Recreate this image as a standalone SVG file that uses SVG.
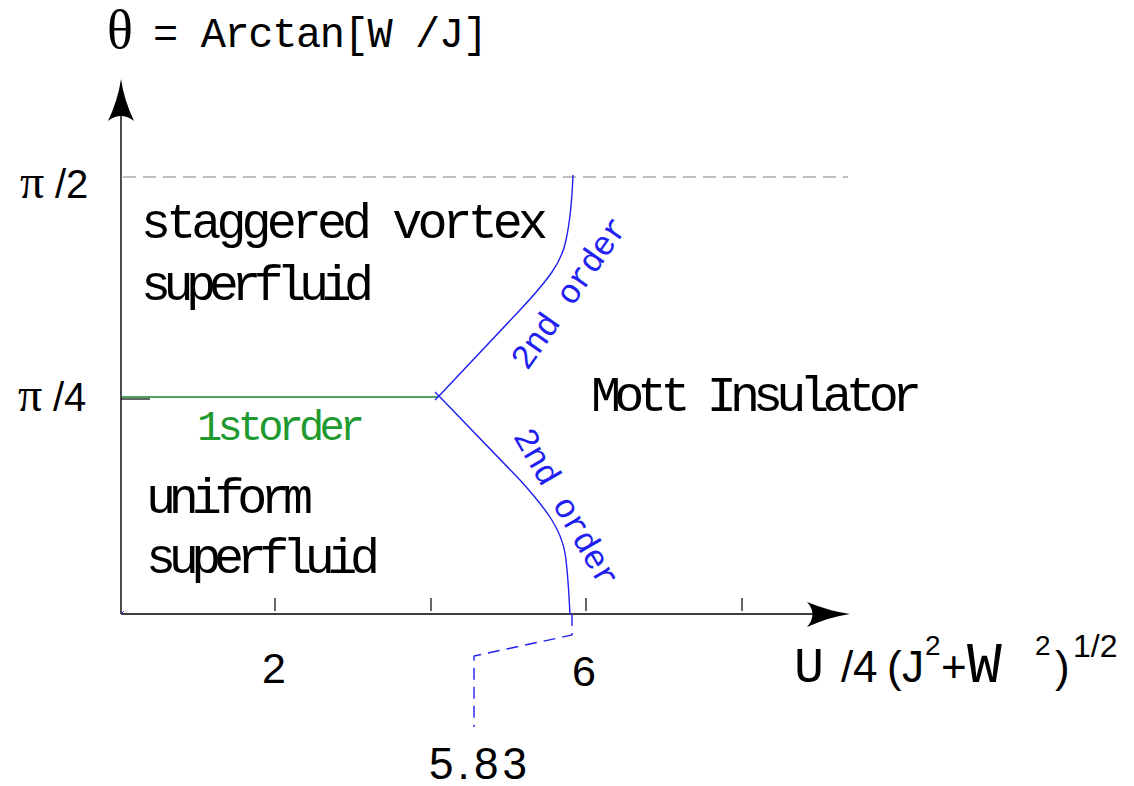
<svg xmlns="http://www.w3.org/2000/svg" width="1134" height="786" viewBox="0 0 1134 786">
<style>
.mono{font-family:"Liberation Mono","Courier New",monospace;fill:#000}
.sans{font-family:"Liberation Sans",Arial,sans-serif;fill:#000}
.serif{font-family:"Liberation Serif","Times New Roman",serif;fill:#000}
.ax{stroke:#000;stroke-width:1.4;fill:none}
.blue{stroke:#2020f0;stroke-width:1.4;fill:none}
.bt{font-family:"Liberation Mono","Courier New",monospace;fill:#2020f0;font-size:34px}
</style>
<rect width="1134" height="786" fill="#fff"/>
<g id="connectors">
  <line x1="123" y1="177" x2="848" y2="177" stroke="#aaa" stroke-width="1.3" stroke-dasharray="13 7"/>
  <line class="ax" x1="121" y1="614" x2="121" y2="108"/>
  <path d="M121,79 Q124,100 134,121 Q121,111 108,121 Q118,100 121,79 Z" fill="#000"/>
  <line class="ax" x1="121" y1="614" x2="818" y2="614"/>
  <path d="M850,614 Q829,617 807,627 Q818,614 807,602 Q829,611 850,614 Z" fill="#000"/>
  <g stroke="#000" stroke-width="1.2">
    <line x1="275" y1="598" x2="275" y2="611"/>
    <line x1="431" y1="598" x2="431" y2="611"/>
    <line x1="586" y1="598" x2="586" y2="611"/>
    <line x1="742" y1="598" x2="742" y2="611"/>
    <line x1="121" y1="399" x2="150" y2="399"/>
  </g>
  <line x1="122" y1="397" x2="438" y2="397" stroke="#12842a" stroke-width="1.6"/>
  <path class="blue" d="M435,400 L439,396 L520,310 C548,280 562,262 566,240 C570,222 572,200 573,175"/>
  <path class="blue" d="M435,392 L439,396 L520,480 C548,511 561,530 565,553 C568,572 569,595 570,615"/>
  <path class="blue" d="M572,614 L572,635 L474,656 L474,727" stroke-dasharray="12 7"/>
  <line x1="121" y1="614" x2="124" y2="611" stroke="#2020f0" stroke-width="1"/>
</g>
<g id="title">
  <text class="serif" x="107" y="48" font-size="54">θ</text>
  <text class="mono" x="153" y="47" font-size="42" textLength="335" lengthAdjust="spacing">= Arctan[W /J]</text>
</g>
<g id="ylabels">
  <text class="serif" x="20" y="198" font-size="48">π</text>
  <text class="sans" x="55" y="198" font-size="40">/2</text>
  <text class="serif" x="18" y="411" font-size="48">π</text>
  <text class="sans" x="53" y="411" font-size="40">/4</text>
</g>
<g id="staggered">
  <text class="mono" x="141" y="238" font-size="50" textLength="407" lengthAdjust="spacing">staggered vortex</text>
  <text class="mono" x="141" y="300" font-size="50" textLength="233" lengthAdjust="spacing">superfluid</text>
</g>
<g id="uniform">
  <text class="mono" x="146" y="513" font-size="50" textLength="167" lengthAdjust="spacing">uniform</text>
  <text class="mono" x="146" y="573" font-size="50" textLength="234" lengthAdjust="spacing">superfluid</text>
</g>
<g id="mott">
  <text class="mono" x="591" y="411" font-size="50" textLength="331" lengthAdjust="spacing">Mott Insulator</text>
</g>
<g id="first-order">
  <text x="197" y="440" font-family="Liberation Mono, Courier New, monospace" font-size="42" fill="#1f9a30" textLength="168" lengthAdjust="spacing">1storder</text>
</g>
<g id="second-order-upper">
  <text class="bt" x="578" y="299" text-anchor="middle" transform="rotate(-55 578 299)" textLength="177" lengthAdjust="spacing">2nd order</text>
</g>
<g id="second-order-lower">
  <text class="bt" x="557" y="513" text-anchor="middle" transform="rotate(60 557 513)" textLength="177" lengthAdjust="spacing">2nd order</text>
</g>
<g id="xlabels">
  <text class="sans" x="274" y="683" font-size="43" text-anchor="middle">2</text>
  <text class="sans" x="584" y="686" font-size="43" text-anchor="middle">6</text>
  <text class="sans" x="429" y="779" font-size="44" textLength="98" lengthAdjust="spacing">5.83</text>
</g>
<g id="xaxis-title">
  <text class="sans" y="682" font-size="44"><tspan class="mono" x="794" font-size="50">U</tspan><tspan x="841">/</tspan><tspan x="853">4</tspan><tspan x="887">(</tspan><tspan x="902">J</tspan><tspan x="925" y="655" font-size="28">2</tspan><tspan x="941" y="682">+</tspan><tspan class="mono" x="967" font-size="58">W</tspan><tspan x="1035" y="655" font-size="28">2</tspan><tspan x="1055" y="682">)</tspan><tspan x="1073" y="657" font-size="32">1/2</tspan></text>
</g>
</svg>
